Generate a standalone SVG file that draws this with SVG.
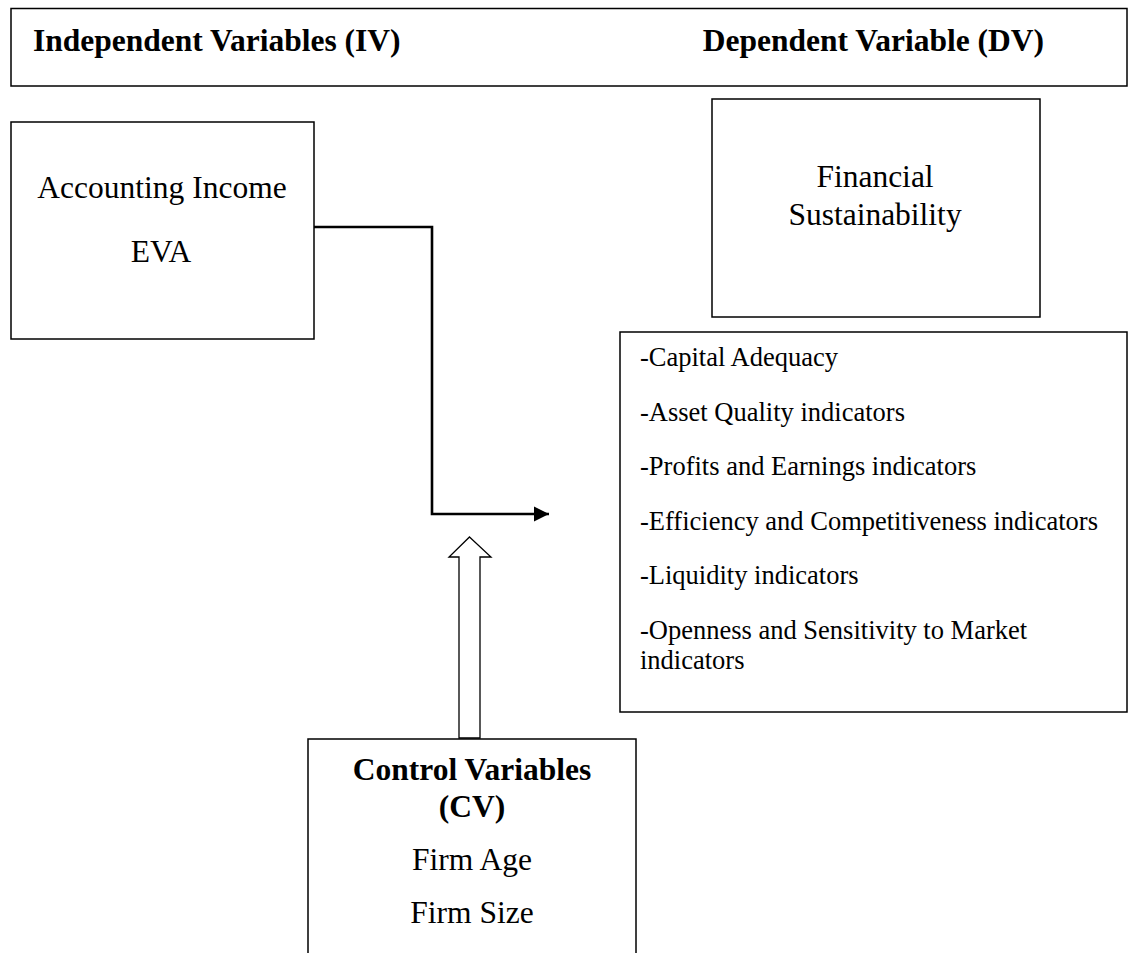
<svg xmlns="http://www.w3.org/2000/svg" width="1128" height="953" viewBox="0 0 1128 953">
<style>
.box{fill:#fff;stroke:#000;stroke-width:1.5}
.t{font-family:"Liberation Serif","Times New Roman",serif;fill:#000}
.big{font-size:31.5px}
.b{font-weight:bold}
.li{font-size:26.5px}
.c{text-anchor:middle}
.conn{fill:none;stroke:#000;stroke-width:2.6}
</style>
<defs>
<marker id="ah" markerWidth="16" markerHeight="16" refX="15" refY="8" orient="auto" markerUnits="userSpaceOnUse">
<path d="M0,0.5 L15,8 L0,15.5 Z" fill="#000"/>
</marker>
</defs>
<g id="header">
<rect class="box" x="11" y="8.5" width="1116" height="77.5"/>
<text class="t big b" x="33" y="51">Independent Variables (IV)</text>
<text class="t big b" x="1044" y="51" text-anchor="end">Dependent Variable (DV)</text>
</g>
<g id="iv">
<rect class="box" x="11" y="122" width="303" height="217"/>
<text class="t big c" x="162" y="198">Accounting Income</text>
<text class="t big c" x="161" y="262">EVA</text>
</g>
<g id="dv">
<rect class="box" x="712" y="99" width="328" height="218"/>
<text class="t big c" x="875" y="187">Financial</text>
<text class="t big c" x="875" y="225">Sustainability</text>
</g>
<g id="indicators">
<rect class="box" x="620" y="332" width="507" height="380"/>
<text class="t li" x="640" y="366">-Capital Adequacy</text>
<text class="t li" x="640" y="420.5">-Asset Quality indicators</text>
<text class="t li" x="640" y="475">-Profits and Earnings indicators</text>
<text class="t li" x="640" y="529.5">-Efficiency and Competitiveness indicators</text>
<text class="t li" x="640" y="584">-Liquidity indicators</text>
<text class="t li" x="640" y="638.5">-Openness and Sensitivity to Market</text>
<text class="t li" x="640" y="669">indicators</text>
</g>
<g id="cv">
<rect class="box" x="308" y="739" width="328" height="230"/>
<text class="t big b c" x="472" y="780">Control Variables</text>
<text class="t big b c" x="472" y="817">(CV)</text>
<text class="t big c" x="472" y="870">Firm Age</text>
<text class="t big c" x="472" y="923">Firm Size</text>
</g>
<g id="connectors">
<path class="conn" d="M314,227 H432 V514 H549" marker-end="url(#ah)"/>
<polygon points="469.5,537 491,557 480,557 480,738 459,738 459,557 449,557" fill="#fff" stroke="#000" stroke-width="1.3"/>
</g>
</svg>
